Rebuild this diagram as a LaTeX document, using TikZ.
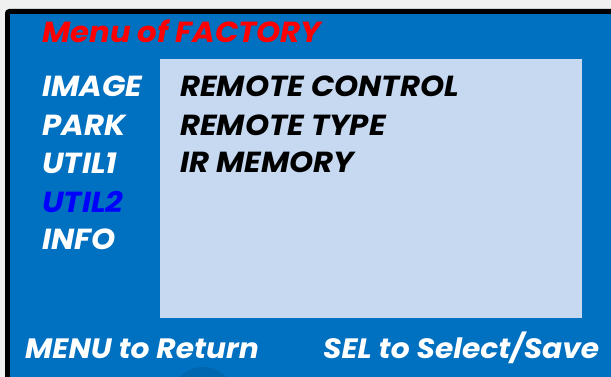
\documentclass[tikz,border=0pt]{standalone}
\usepackage{fontspec}
\newfontfamily\gfont[FakeStretch=1.06]{Poppins}
\definecolor{bgray}{HTML}{F0F0F0}
\definecolor{scrblue}{HTML}{0070C0}
\definecolor{panelblue}{HTML}{C6D9F0}
\definecolor{darkblob}{HTML}{0066B0}
\definecolor{titlered}{HTML}{FF0000}
\definecolor{selblue}{HTML}{0000FF}
\begin{document}
\begin{tikzpicture}[x=1pt,y=-1pt,
  txt/.style={anchor=base west,inner sep=0pt,font=\gfont\bfseries\itshape\fontsize{29}{29}\selectfont},
  menu/.style={txt,text=white},
  item/.style={txt,text=black},
  foot/.style={menu,font=\gfont\bfseries\itshape\fontsize{28}{28}\selectfont}]
\useasboundingbox (0,0) rectangle (611,377);
\clip (0,0) rectangle (611,377);
\fill[bgray] (0,0) rectangle (611,377);
\fill[black,rounded corners=4pt] (5,9) rectangle (640,400);
\fill[scrblue] (10,14) rectangle (640,400);
\fill[darkblob] (203,400) circle (33);
\fill[panelblue] (160,59) rectangle (582,318);
\node[txt,text=titlered] (title) at (42,43) {Menu of FACTORY};
\node[menu] (image) at (42,97) {IMAGE};
\node[menu] (park) at (42,136) {PARK};
\node[menu] (util1) at (42,174) {UTIL1};
\node[txt,text=selblue] (util2) at (42,212) {UTIL2};
\node[menu] (info) at (42,250) {INFO};
\node[item] (rc) at (180,97) {REMOTE CONTROL};
\node[item] (rt) at (180,136) {REMOTE TYPE};
\node[item] (ir) at (180,173) {IR MEMORY};
\node[foot] (ret) at (25,358) {MENU to Return};
\node[foot] (sel) at (323,358) {SEL to Select/Save};
\end{tikzpicture}
\end{document}
